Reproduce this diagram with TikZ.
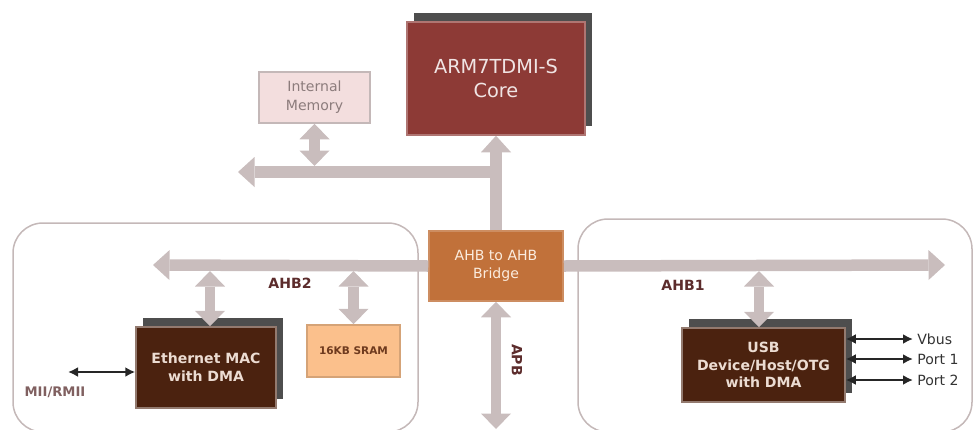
\documentclass[tikz,border=0pt]{standalone}
\usepackage{fontspec}
\setmainfont{DejaVu Sans}
\usetikzlibrary{arrows.meta,shadows}

\definecolor{busgray}{RGB}{201,189,189}
\definecolor{framegray}{RGB}{196,184,184}
\definecolor{corered}{RGB}{141,58,54}
\definecolor{coretext}{RGB}{240,228,228}
\definecolor{memfill}{RGB}{243,222,222}
\definecolor{memtext}{RGB}{140,124,124}
\definecolor{bridgebrown}{RGB}{193,113,58}
\definecolor{bridgetext}{RGB}{251,236,222}
\definecolor{sramfill}{RGB}{251,192,140}
\definecolor{sramtext}{RGB}{110,58,30}
\definecolor{periphbrown}{RGB}{75,34,15}
\definecolor{periphtext}{RGB}{236,220,210}
\definecolor{busmaroon}{RGB}{92,44,44}
\definecolor{miitext}{RGB}{128,96,96}
\definecolor{shadowgray}{RGB}{78,78,78}

\begin{document}
\begin{tikzpicture}[x=0.2mm, y=-0.2mm]
        \tikzstyle{soc_frame}   = [draw=framegray, line width=0.3mm, rounded corners=6mm]
        \tikzstyle{soc_block}   = [shape=rectangle, inner sep=0pt, align=center]
        \tikzstyle{soc_shadow}  = [drop shadow={shadow xshift=1.4mm, shadow yshift=1.9mm, fill=shadowgray, opacity=1}]
        \tikzstyle{soc_master}  = [soc_block, soc_shadow, fill=corered, draw=corered!70!white, line width=0.3mm,
                                   text=coretext, font=\fontsize{11pt}{13.6pt}\selectfont]
        \tikzstyle{soc_memory}  = [soc_block, fill=memfill, draw=framegray, line width=0.3mm,
                                   text=memtext, font=\fontsize{8pt}{10.8pt}\selectfont]
        \tikzstyle{soc_bridge}  = [soc_block, fill=bridgebrown, draw=bridgebrown!80!white, line width=0.3mm,
                                   text=bridgetext, font=\fontsize{8pt}{10.5pt}\selectfont]
        \tikzstyle{soc_periph}  = [soc_block, soc_shadow, fill=periphbrown, draw=periphbrown!60!white, line width=0.3mm,
                                   text=periphtext, font=\bfseries\fontsize{8pt}{10.1pt}\selectfont]
        \tikzstyle{soc_sram}    = [soc_block, fill=sramfill, draw=sramfill!85!black, line width=0.3mm,
                                   text=sramtext, font=\bfseries\fontsize{6pt}{7pt}\selectfont]
        \tikzstyle{soc_buslbl}  = [text=busmaroon, font=\bfseries\fontsize{8pt}{9pt}\selectfont]
        \tikzstyle{soc_pinlbl}  = [anchor=west, inner sep=0.8mm, text=black!80, font=\fontsize{8pt}{9pt}\selectfont]
        \tikzstyle{soc_bus}     = [color=busgray, line width=2.3mm,
                                   -{Triangle[width=6mm, length=3.3mm, line width=0pt, fill=busgray]}]
        \tikzstyle{soc_link}    = [color=busgray, line width=2.1mm,
                                   {Triangle[width=6mm, length=3.1mm, line width=0pt, fill=busgray]}-{Triangle[width=6mm, length=3.1mm, line width=0pt, fill=busgray]}]
        \tikzstyle{soc_pin}     = [color=black!85, line width=0.45mm,
                                   {Latex[length=2mm, width=2mm]}-{Latex[length=2mm, width=2mm]}]

        \useasboundingbox (0,0) rectangle (974,429);

        % AHB2 and AHB1 groups
        \draw[soc_frame] (13,223)  rectangle (418,432);
        \draw[soc_frame] (578,219) rectangle (972,432);

        \node[soc_master, minimum width=35.6mm, minimum height=22.6mm] at (496, 78.5) (arm) {ARM7TDMI-S\\Core};
        \node[soc_memory, minimum width=22.2mm, minimum height=10.2mm] at (314.5, 97.5) (mem) {Internal\\Memory};
        \node[soc_bridge, minimum width=26.8mm, minimum height=14mm]   at (496, 266) (bridge) {AHB to AHB\\Bridge};
        \node[soc_periph, minimum width=28mm, minimum height=16.2mm]   at (206, 367.5) (eth) {Ethernet MAC\\with DMA};
        \node[soc_sram, minimum width=18.6mm, minimum height=10.4mm]   at (353.5, 351) (sram) {16KB SRAM};
        \node[soc_periph, minimum width=32.6mm, minimum height=14.8mm] at (763.5, 365) (usb) {USB\\Device/Host/OTG\\with DMA};

        \node[soc_buslbl]             at (290, 283) (ahb2_lbl) {AHB2};
        \node[soc_buslbl]             at (683, 285) (ahb1_lbl) {AHB1};
        \node[soc_buslbl, rotate=-90] at (517, 360) (apb_lbl) {APB};
        \node[soc_buslbl, text=miitext, font=\bfseries\fontsize{7.5pt}{8pt}\selectfont]
                                      at (55, 392) (mii_lbl) {MII/RMII};

        \node[soc_pinlbl] at (913, 339) (vbus)  {Vbus};
        \node[soc_pinlbl] at (913, 359) (port1) {Port 1};
        \node[soc_pinlbl] at (913, 380) (port2) {Port 2};

        \coordinate (topbus_w) at (238, 172);
        \coordinate (ahb2_w)   at (153, 265);
        \coordinate (ahb1_e)   at (945, 265);
        \coordinate (apb_s)    at (496, 429);
        \coordinate (mem_tap)  at (314.5, 166);
        \coordinate (eth_tap)  at (210, 271);
        \coordinate (sram_tap) at (353.5, 271);
        \coordinate (usb_tap)  at (759, 271);
        \coordinate (mii_w)    at (68, 372);

        % buses
        \draw[soc_bus] (bridge.north) -- (bridge.north |- arm.south);
        \draw[soc_bus] (bridge.north |- topbus_w) -- (topbus_w);
        \draw[soc_bus] (bridge.west) -- (ahb2_w);
        \draw[soc_bus] (bridge.east) -- (ahb1_e);

        \draw[soc_link] (mem_tap) -- (mem.south);
        \draw[soc_link] (eth_tap) -- (eth_tap |- eth.north);
        \draw[soc_link] (sram_tap) -- (sram.north);
        \draw[soc_link] (usb_tap) -- (usb_tap |- usb.north);
        \draw[soc_link] (bridge.south) -- (apb_s);

        % external pins
        \draw[soc_pin] (mii_w) -- (eth.west |- mii_w);
        \draw[soc_pin] (usb.east |- vbus) -- (vbus.west);
        \draw[soc_pin] (usb.east |- port1) -- (port1.west);
        \draw[soc_pin] (usb.east |- port2) -- (port2.west);
      \end{tikzpicture}
\end{document}
